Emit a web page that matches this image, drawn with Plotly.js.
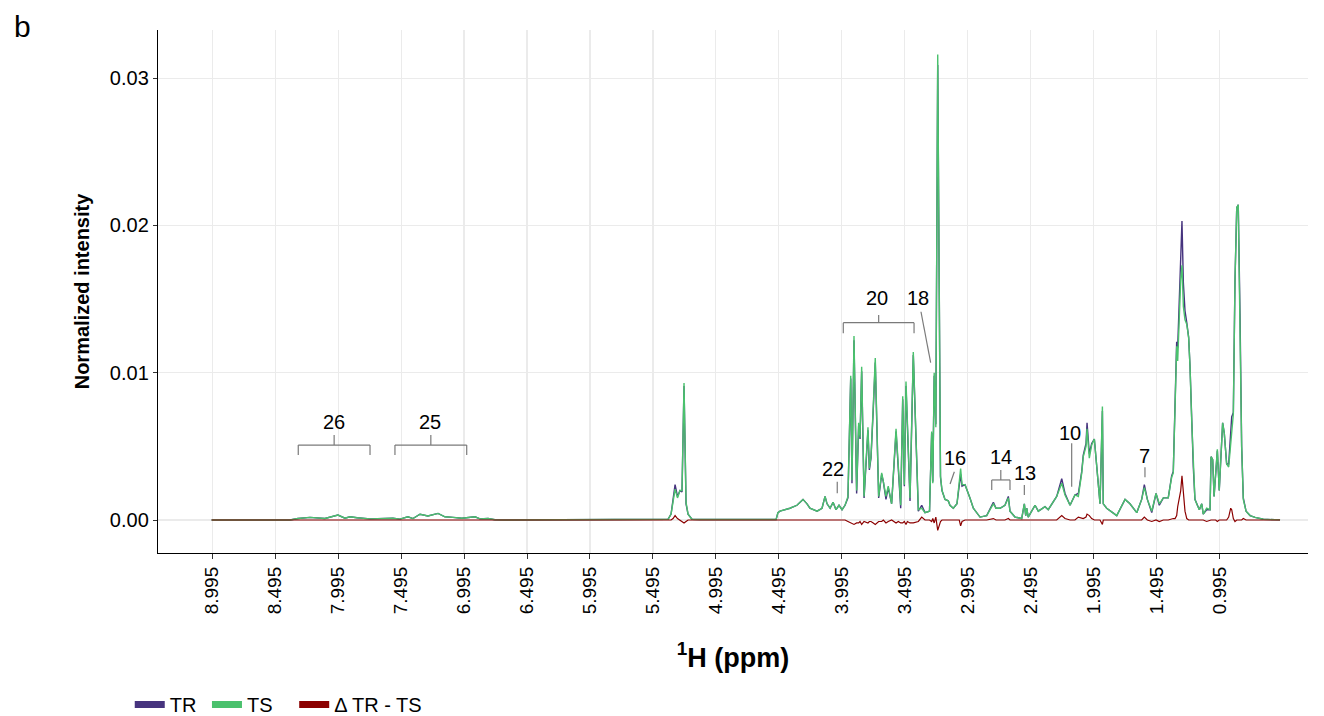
<!DOCTYPE html>
<html>
<head>
<meta charset="utf-8">
<script src="https://cdn.plot.ly/plotly-3.0.1.min.js"></script>
<style>
html,body{margin:0;padding:0;background:#fff;}
#chart{width:1324px;height:716px;}
</style>
</head>
<body>
<div id="chart"></div>
<script>
// Chemical shift (ppm) sampled along the spectrum
const PPM = [
  9.000, 8.378, 8.314, 8.219, 8.100, 7.997, 7.941, 7.901, 7.846, 7.742,
  7.560, 7.504, 7.441, 7.401, 7.345, 7.282, 7.202, 7.147, 7.083, 7.012,
  6.908, 6.869, 6.805, 6.750, 6.670, 5.439, 5.375, 5.351, 5.335, 5.319,
  5.300, 5.280, 5.264, 5.248, 5.232, 5.216, 5.185, 5.121, 4.517, 4.502,
  4.486, 4.407, 4.351, 4.303, 4.271, 4.248, 4.191, 4.152, 4.128, 4.112,
  4.088, 4.064, 4.041, 4.017, 3.993, 3.969, 3.946, 3.924, 3.914, 3.898,
  3.877, 3.861, 3.850, 3.837, 3.818, 3.787, 3.776, 3.763, 3.745, 3.729,
  3.702, 3.678, 3.665, 3.644, 3.626, 3.599, 3.564, 3.546, 3.527, 3.511,
  3.498, 3.485, 3.474, 3.453, 3.427, 3.400, 3.387, 3.360, 3.334, 3.298,
  3.281, 3.272, 3.261, 3.248, 3.233, 3.211, 3.199, 3.175, 3.149, 3.136,
  3.109, 3.080, 3.062, 3.051, 3.040, 3.016, 2.977, 2.950, 2.897, 2.844,
  2.791, 2.770, 2.738, 2.699, 2.672, 2.659, 2.619, 2.566, 2.545, 2.534,
  2.526, 2.514, 2.460, 2.434, 2.381, 2.355, 2.288, 2.248, 2.222, 2.182,
  2.143, 2.116, 2.089, 2.077, 2.055, 2.047, 2.029, 2.010, 1.989, 1.970,
  1.944, 1.925, 1.918, 1.891, 1.811, 1.745, 1.706, 1.652, 1.613, 1.592,
  1.568, 1.533, 1.499, 1.473, 1.441, 1.402, 1.375, 1.362, 1.348, 1.335,
  1.327, 1.314, 1.303, 1.293, 1.282, 1.269, 1.255, 1.240, 1.229, 1.216,
  1.203, 1.190, 1.171, 1.155, 1.136, 1.124, 1.097, 1.070, 1.062, 1.049,
  1.038, 1.025, 1.012, 0.997, 0.983, 0.970, 0.957, 0.938, 0.922, 0.906,
  0.898, 0.885, 0.872, 0.858, 0.846, 0.832, 0.819, 0.806, 0.784, 0.752,
  0.712, 0.647, 0.514
];

// TS normalized intensity
const TS = [
  0, 0, 0.00010, 0.00018, 0.00010, 0.00034, 0.00012, 0.00022, 0.00015, 0.00008,
  0.00012, 0.00006, 0.00022, 0.00010, 0.00039, 0.00027, 0.00045, 0.00022, 0.00018, 0.00012,
  0.00022, 0.00008, 0.00010, 0.00002, 0, 0.00003, 0.00005, 0.0004, 0.0012, 0.0021,
  0.0015, 0.0020, 0.0020, 0.0093, 0.0012, 0.0004, 0.00005, 0.00003, 0.00003, 0.0005,
  0.0006, 0.0008, 0.0010, 0.0014, 0.0011, 0.0008, 0.0006, 0.0008, 0.0016, 0.0011,
  0.0008, 0.0012, 0.0007, 0.0010, 0.0007, 0.0010, 0.0016, 0.0098, 0.0027, 0.0125,
  0.0020, 0.0066, 0.0056, 0.0104, 0.0016, 0.0063, 0.0035, 0.0043, 0.0077, 0.0110,
  0.0016, 0.0032, 0.0026, 0.0016, 0.0023, 0.0011, 0.0062, 0.0036, 0.0010, 0.0084,
  0.0024, 0.0094, 0.0068, 0.0015, 0.0114, 0.0038, 0.0007, 0.0008, 0.0005, 0.0006,
  0.0060, 0.0025, 0.0100, 0.0063, 0.0316, 0.0030, 0.0020, 0.0014, 0.0013, 0.0010,
  0.0008, 0.0011, 0.0024, 0.0035, 0.0024, 0.0024, 0.0015, 0.0008, 0.0002, 0.0003,
  0.0011, 0.0008, 0.0008, 0.0010, 0.0015, 0.0006, 0.0002, 0.0001, 0.0011, 0.0003,
  0.0008, 0.0002, 0.0010, 0.0006, 0.0009, 0.0007, 0.0016, 0.0025, 0.0017, 0.0010,
  0.0017, 0.0016, 0.0032, 0.0043, 0.0050, 0.0062, 0.0042, 0.0051, 0.0055, 0.0038,
  0.0011, 0.0077, 0.0011, 0.0008, 0.0003, 0.0014, 0.0011, 0.0005, 0.0014, 0.0022,
  0.0014, 0.0006, 0.0018, 0.0011, 0.0015, 0.0015, 0.0029, 0.0032, 0.0077, 0.0118,
  0.0108, 0.0140, 0.0163, 0.0173, 0.0145, 0.0136, 0.0133, 0.0124, 0.0104, 0.0068,
  0.0036, 0.0014, 0.0010, 0.0007, 0.0011, 0.0004, 0.0008, 0.0007, 0.0043, 0.0041,
  0.0016, 0.0032, 0.0048, 0.0020, 0.0043, 0.0066, 0.0059, 0.0038, 0.0036, 0.0054,
  0.0063, 0.0072, 0.0163, 0.0212, 0.0214, 0.0140, 0.0050, 0.0014, 0.0006, 0.0003,
  0.00018, 0.00005, 0.00001
];

// TR normalized intensity
const TR = [
  0, 0, 0.00010, 0.00018, 0.00010, 0.00034, 0.00012, 0.00022, 0.00015, 0.00008,
  0.00012, 0.00006, 0.00022, 0.00010, 0.00039, 0.00027, 0.00045, 0.00022, 0.00018, 0.00012,
  0.00022, 0.00008, 0.00010, 0.00002, 0, 0.00003, 0.00005, 0.0004, 0.0013, 0.0024,
  0.0016, 0.0020, 0.0019, 0.0091, 0.0011, 0.0004, 0.00005, 0.00003, 0.00003, 0.0005,
  0.0006, 0.0008, 0.0010, 0.0014, 0.0011, 0.0008, 0.0006, 0.0008, 0.0016, 0.0011,
  0.0008, 0.0012, 0.0007, 0.0010, 0.0007, 0.0010, 0.0015, 0.0096, 0.0025, 0.0122,
  0.0018, 0.0064, 0.0055, 0.0101, 0.0015, 0.0061, 0.0034, 0.0042, 0.0075, 0.0107,
  0.0015, 0.0031, 0.0026, 0.0014, 0.0022, 0.0011, 0.0060, 0.0035, 0.0008, 0.0082,
  0.0023, 0.0091, 0.0067, 0.0013, 0.0112, 0.0037, 0.0006, 0.0010, 0.0005, 0.0006,
  0.0059, 0.0026, 0.0098, 0.0065, 0.0309, 0.0029, 0.0020, 0.0014, 0.0013, 0.0010,
  0.0008, 0.0011, 0.0024, 0.0031, 0.0023, 0.0024, 0.0015, 0.0008, 0.0002, 0.0003,
  0.0012, 0.0008, 0.0008, 0.0010, 0.0016, 0.0006, 0.0002, 0.0001, 0.0011, 0.0003,
  0.0008, 0.0002, 0.0010, 0.0006, 0.0009, 0.0007, 0.0016, 0.0028, 0.0018, 0.0010,
  0.0017, 0.0018, 0.0033, 0.0044, 0.0052, 0.0066, 0.0045, 0.0052, 0.0055, 0.0038,
  0.0011, 0.0074, 0.0011, 0.0008, 0.0003, 0.0014, 0.0011, 0.0005, 0.0014, 0.0024,
  0.0014, 0.0005, 0.0018, 0.0010, 0.0015, 0.0015, 0.0030, 0.0033, 0.0078, 0.0121,
  0.0117, 0.0154, 0.0183, 0.0203, 0.0161, 0.0142, 0.0134, 0.0124, 0.0104, 0.0068,
  0.0036, 0.0014, 0.0010, 0.0007, 0.0011, 0.0004, 0.0007, 0.0007, 0.0043, 0.0041,
  0.0016, 0.0032, 0.0047, 0.0020, 0.0043, 0.0066, 0.0059, 0.0038, 0.0038, 0.0062,
  0.0070, 0.0073, 0.0162, 0.0212, 0.0214, 0.0140, 0.0050, 0.0015, 0.0006, 0.0003,
  0.00018, 0.00005, 0.00001
];

// Δ TR - TS
const DELTA = [
  0, 0, 0, 0, 0, 0, 0, 0, 0, 0,
  0, 0, 0, 0, 0, 0, 0, 0, 0, 0,
  0, 0, 0, 0, 0, 0, 0, 0, 0.0001, 0.0003,
  0.0001, 0, -0.0001, -0.0002, -0.0001, 0, 0, 0, 0, 0,
  0, 0, 0, 0, 0, 0, 0, 0, 0, 0,
  0, 0, 0, 0, 0, 0, -0.0001, -0.0002, -0.0002, -0.0003,
  -0.0002, -0.0002, -0.0001, -0.0003, -0.0001, -0.0002, -0.0001, -0.0001, -0.0002, -0.0003,
  -0.0001, -0.0001, 0, -0.0002, -0.0001, 0, -0.0002, -0.0001, -0.0002, -0.0002,
  -0.0001, -0.0003, -0.0001, -0.0002, -0.0002, -0.0001, -0.0001, 0.0002, 0, 0,
  -0.0001, 0.0001, -0.0002, 0.0002, -0.0007, -0.0001, 0, 0, 0, 0,
  0, 0, 0, -0.0004, -0.0001, 0, 0, 0, 0, 0,
  0.0001, 0, 0, 0, 0.0001, 0, 0, 0, 0, 0,
  0, 0, 0, 0, 0, 0, 0, 0.0003, 0.0001, 0,
  0, 0.0002, 0.0001, 0.0001, 0.0002, 0.0004, 0.0003, 0.0001, 0, 0,
  0, -0.0003, 0, 0, 0, 0, 0, 0, 0, 0.0002,
  0, -0.0001, 0, -0.0001, 0, 0, 0.0001, 0.0001, 0.0001, 0.0003,
  0.0009, 0.0014, 0.0020, 0.0030, 0.0016, 0.0006, 0.0001, 0, 0, 0,
  0, 0, 0, 0, 0, 0, -0.0001, 0, 0, 0,
  0, 0, -0.0001, 0, 0, 0, 0, 0, 0.0002, 0.0008,
  0.0007, 0.0001, -0.0001, 0, 0, 0, 0, 0.0001, 0, 0,
  0, 0, 0
];

// x tick values/labels
const XTICKS = [8.995, 8.495, 7.995, 7.495, 6.995, 6.495, 5.995, 5.495, 4.995,
                4.495, 3.995, 3.495, 2.995, 2.495, 1.995, 1.495, 0.995];
const XTICKTEXT = XTICKS.map(v => v.toFixed(3));
const YTICKS = [0, 0.01, 0.02, 0.03];

// Peak annotation labels
const BRACKET_LABELS = ['26', '25', '20', '14'];
const TICK_LABELS = ['22', '18', '16', '13', '10', '7'];
const SERIES_NAMES = ['TR', 'TS', 'Δ TR - TS'];

const COL_TR = '#46337E';
const COL_TS = '#4AC16D';
const COL_D = '#8B0000';
const FONT = 'Liberation Sans, Arial, Helvetica, sans-serif';
const NB = '\u00a0';

const traces = [
  {x: PPM, y: TR, type: 'scatter', mode: 'lines', name: SERIES_NAMES[0], showlegend: false,
   line: {color: COL_TR, width: 1.4}},
  {x: PPM, y: TS, type: 'scatter', mode: 'lines', name: SERIES_NAMES[1], showlegend: false,
   line: {color: COL_TS, width: 1.4}},
  {x: PPM, y: DELTA, type: 'scatter', mode: 'lines', name: SERIES_NAMES[2], showlegend: false,
   line: {color: COL_D, width: 1.2}},
  // legend keys
  {x: [null], y: [null], type: 'scatter', mode: 'lines', name: SERIES_NAMES[0] + NB, line: {color: COL_TR, width: 7}},
  {x: [null], y: [null], type: 'scatter', mode: 'lines', name: SERIES_NAMES[1] + NB + NB + NB, line: {color: COL_TS, width: 7}},
  {x: [null], y: [null], type: 'scatter', mode: 'lines', name: SERIES_NAMES[2], line: {color: COL_D, width: 7}}
];

// annotation geometry (layout, not data)
const GRAY = '#7a7a7a';
const brackets = [
  {x0: 8.312, x1: 7.742, xc: 8.027, bar: 0.00509, end: 0.00441, top: 0.00577, lx: 8.030, ly: 0.00667},
  {x0: 7.544, x1: 6.974, xc: 7.259, bar: 0.00509, end: 0.00441, top: 0.00577, lx: 7.262, ly: 0.00667},
  {x0: 3.983, x1: 3.421, xc: 3.702, bar: 0.01340, end: 0.01268, top: 0.01392, lx: 3.713, ly: 0.01505},
  {x0: 2.804, x1: 2.659, xc: 2.732, bar: 0.00272, end: 0.00204, top: 0.00339, lx: 2.733, ly: 0.00428}
];
const ticksAnn = [
  {x0: 4.031, y0: 0.00260, x1: 4.031, y1: 0.00181, lx: 4.062, ly: 0.00346},
  {x0: 3.366, y0: 0.01414, x1: 3.289, y1: 0.01068, lx: 3.390, ly: 0.01505},
  {x0: 3.101, y0: 0.00328, x1: 3.135, y1: 0.00244, lx: 3.096, ly: 0.00420},
  {x0: 2.545, y0: 0.00238, x1: 2.545, y1: 0.00170, lx: 2.540, ly: 0.00317},
  {x0: 2.169, y0: 0.00521, x1: 2.169, y1: 0.00226, lx: 2.182, ly: 0.00593},
  {x0: 1.587, y0: 0.00358, x1: 1.587, y1: 0.00290, lx: 1.587, ly: 0.00434}
];

const shapes = [];
const annotations = [];
const ln = (x0, y0, x1, y1) => ({type: 'line', xref: 'x', yref: 'y', x0, y0, x1, y1,
  line: {color: GRAY, width: 1.2}});
const labelFont = {family: FONT, size: 20, color: '#000'};
brackets.forEach((b, i) => {
  shapes.push(ln(b.x0, b.bar, b.x1, b.bar));
  shapes.push(ln(b.x0, b.bar, b.x0, b.end));
  shapes.push(ln(b.x1, b.bar, b.x1, b.end));
  shapes.push(ln(b.xc, b.bar, b.xc, b.top));
  annotations.push({x: b.lx, y: b.ly, xref: 'x', yref: 'y', text: BRACKET_LABELS[i], showarrow: false,
    font: labelFont, xanchor: 'center', yanchor: 'middle'});
});
ticksAnn.forEach((t, i) => {
  shapes.push(ln(t.x0, t.y0, t.x1, t.y1));
  annotations.push({x: t.lx, y: t.ly, xref: 'x', yref: 'y', text: TICK_LABELS[i], showarrow: false,
    font: labelFont, xanchor: 'center', yanchor: 'middle'});
});
annotations.push({x: -0.118, y: 1.006, xref: 'paper', yref: 'paper', text: 'b', showarrow: false,
  font: {family: FONT, size: 30, color: '#000'}, xanchor: 'center', yanchor: 'middle'});

const layout = {
  width: 1324, height: 716,
  margin: {l: 158, r: 16, t: 30, b: 163},
  paper_bgcolor: '#fff', plot_bgcolor: '#fff',
  font: {family: FONT, color: '#000'},
  showlegend: true,
  legend: {orientation: 'h', xref: 'container', yref: 'container', x: 0.098, y: 0.016,
    xanchor: 'left', yanchor: 'middle',
    font: {family: FONT, size: 20, color: '#000'}, itemwidth: 30, tracegroupgap: 0,
    bgcolor: 'rgba(0,0,0,0)'},
  xaxis: {
    range: [9.426, 0.292], autorange: false, automargin: false,
    tickvals: XTICKS, ticktext: XTICKTEXT, tickangle: -90,
    tickfont: {family: FONT, size: 19, color: '#000'},
    ticks: 'outside', ticklen: 5, tickcolor: '#333', tickwidth: 1,
    showline: true, linecolor: '#000', linewidth: 1.2, mirror: false,
    showgrid: true, gridcolor: '#EBEBEB', gridwidth: 1.2, zeroline: false,
    title: {text: '<b><sup>1</sup>H (ppm)</b>', font: {family: FONT, size: 27, color: '#000'}, standoff: 34}
  },
  yaxis: {
    range: [-0.00224, 0.03327], autorange: false, automargin: false,
    tickvals: YTICKS, tickformat: '.2f',
    tickfont: {family: FONT, size: 20, color: '#000'},
    ticks: 'outside', ticklen: 4, tickcolor: '#333', tickwidth: 1,
    showline: true, linecolor: '#000', linewidth: 1.2, mirror: false,
    showgrid: true, gridcolor: '#EBEBEB', gridwidth: 1.2, zeroline: false,
    title: {text: '<b>Normalized intensity</b>', font: {family: FONT, size: 20, color: '#000'}, standoff: 14}
  },
  shapes: shapes,
  annotations: annotations
};

Plotly.newPlot('chart', traces, layout, {displayModeBar: false, staticPlot: true});
</script>
</body>
</html>
